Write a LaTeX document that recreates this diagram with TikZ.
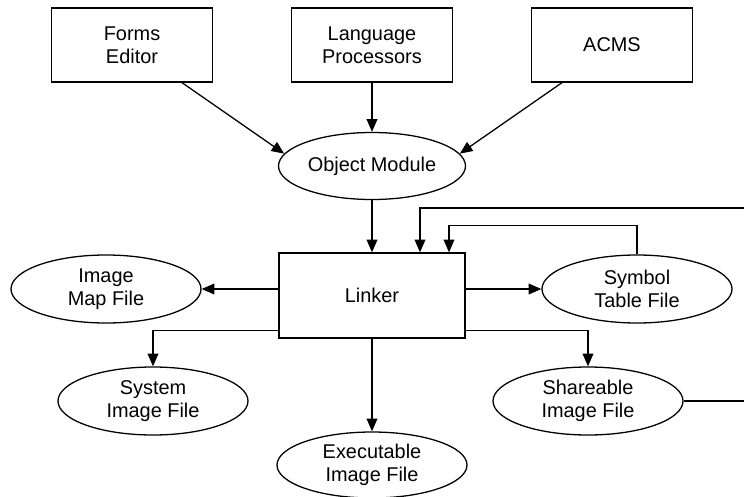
\documentclass[tikz,border=0pt]{standalone}
\usepackage{fontspec}
\setmainfont{Liberation Sans}
\usetikzlibrary{arrows.meta,shapes.geometric,calc}
\tikzset{
  box/.style={
    draw, line width=1.1pt, inner sep=0pt, align=center,
    minimum width=4.83cm, minimum height=2.22cm,
    font=\fontsize{17}{19.6}\selectfont
  },
  oval/.style={
    draw, ellipse, line width=1.1pt, inner sep=0pt, align=center,
    minimum width=5.7cm, minimum height=2.04cm,
    font=\fontsize{17}{19.6}\selectfont
  },
  arr/.style={line width=1.1pt, -{Triangle[length=0.38cm,width=0.32cm]}}
}

\begin{document}
\begin{tikzpicture}[x=0.03cm,y=-0.03cm]
  \useasboundingbox (0,0) rectangle (744,497);
  \clip (0,0) rectangle (744,497);

  % Inputs
  \node[box] (forms) at (132,45) {Forms\\Editor};
  \node[box] (lang) at (372,45) {Language\\Processors};
  \node[box] (acms) at (612,45) {ACMS};
  \node[oval, minimum width=5.61cm, minimum height=2.01cm] (objmod) at (372,166) {Object Module};
  \node[box, minimum width=5.58cm, minimum height=2.55cm] (linker) at (372,295.5) {Linker};

  % Outputs
  \node[oval] (imgmap) at (106,289) {Image\\Map File};
  \node[oval] (symtab) at (637,289) {Symbol\\Table File};
  \node[oval] (sysimg) at (153,401) {System\\Image File};
  \node[oval] (shrimg) at (588,401) {Shareable\\Image File};
  \node[oval, minimum height=1.98cm] (exeimg) at (372,465) {Executable\\Image File};
  \coordinate (rtop) at (750,208);

  % Into the object module
  \draw[arr] ($(forms.south)+(50,0)$) -- (objmod.172);
  \draw[arr] (lang.south) -- (objmod.north);
  \draw[arr] ($(acms.south)+(-50,0)$) -- (objmod.8);
  \draw[arr] (objmod.south) -- (linker.north);

  % Out of the linker
  \draw[arr] (linker.west |- imgmap) -- (imgmap.east);
  \draw[arr] (linker.east |- symtab) -- (symtab.west);
  \draw[arr] ($(linker.south west)+(0,-8)$) -| (sysimg.north);
  \draw[arr] ($(linker.south east)+(0,-8)$) -| (shrimg.north);
  \draw[arr] (linker.south) -- (exeimg.north);

  % Feedback loops
  \draw[arr] (symtab.north) -- ++(0,-29) -| ($(linker.north)+(77,0)$);
  \draw[arr] (shrimg.east) -| (rtop) -| ($(linker.north)+(48,0)$);
\end{tikzpicture}
\end{document}
